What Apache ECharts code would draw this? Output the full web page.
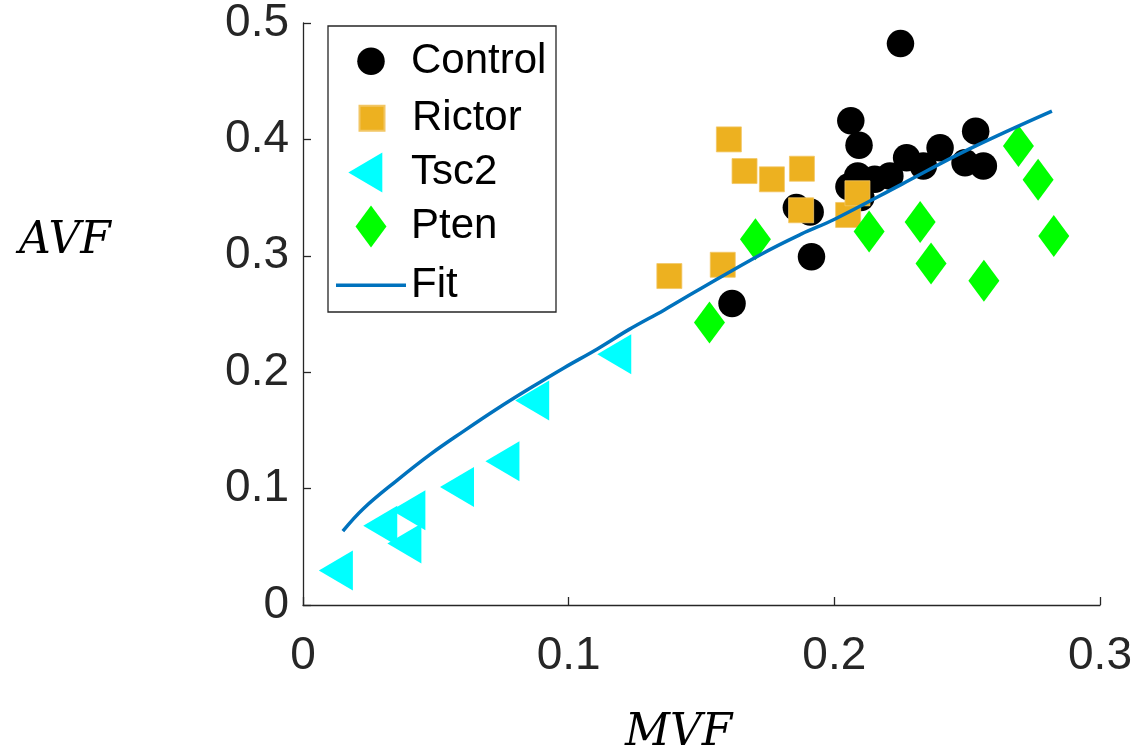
<!DOCTYPE html>
<html>
<head>
<meta charset="utf-8">
<script src="https://cdn.jsdelivr.net/npm/echarts@6/dist/echarts.min.js"></script>
<style>html,body{margin:0;padding:0;background:#fff;}#c{width:1140px;height:753px;}</style>
</head>
<body>
<div id="c"></div>
<script>
const seriesNames = ['Control', 'Rictor', 'Tsc2', 'Pten', 'Fit'];
const xTicks = [0, 0.1, 0.2, 0.3];
const yTicks = [0, 0.1, 0.2, 0.3, 0.4, 0.5];
const controlPoints = [
  [0.1615, 0.2591], [0.1857, 0.3414], [0.1909, 0.3377], [0.1914, 0.2991],
  [0.2062, 0.4160], [0.2093, 0.3949], [0.2088, 0.3686], [0.2055, 0.3594],
  [0.2100, 0.3500], [0.2152, 0.3657], [0.2209, 0.3686], [0.2249, 0.4823],
  [0.2272, 0.3843], [0.2335, 0.3771], [0.2398, 0.3929], [0.2492, 0.3800],
  [0.2532, 0.4071], [0.2561, 0.3771]
];
const rictorPoints = [
  [0.1379, 0.2826], [0.1580, 0.2923], [0.1603, 0.4000], [0.1662, 0.3728],
  [0.1765, 0.3657], [0.1878, 0.3748], [0.1875, 0.3391], [0.2052, 0.3351],
  [0.2087, 0.3537]
];
const tsc2Points = [
  [0.0145, 0.0297], [0.0312, 0.0680], [0.0403, 0.0529], [0.0418, 0.0814],
  [0.0601, 0.1014], [0.0772, 0.1234], [0.0884, 0.1757], [0.1193, 0.2155]
];
const ptenPoints = [
  [0.1530, 0.2428], [0.1703, 0.3143], [0.2131, 0.3209], [0.2323, 0.3291],
  [0.2364, 0.2934], [0.2563, 0.2786], [0.2693, 0.3943], [0.2767, 0.3654],
  [0.2826, 0.3171]
];
const fitPoints = [
  [0.0150, 0.0634], [0.0228, 0.0829], [0.0354, 0.1071], [0.0479, 0.1294],
  [0.0605, 0.1494], [0.0731, 0.1686], [0.0857, 0.1866], [0.0982, 0.2037],
  [0.1108, 0.2200], [0.1228, 0.2368], [0.1360, 0.2535], [0.1473, 0.2686],
  [0.1725, 0.3014], [0.1875, 0.3186], [0.2001, 0.3314], [0.2253, 0.3614],
  [0.2505, 0.3914], [0.2819, 0.4243]
];

const triPath = 'path://M45.33,20M0,20L34,0L34,40Z';
const diaPath = 'path://M15.5,0L31,21L15.5,42L0,21Z';
const sqPath = 'path://M0,0L25,0L25,25L0,25Z';

const chart = echarts.init(document.getElementById('c'));
const axisColor = '#262626';
const tickFont = 'Liberation Sans';

// icon column: 70px wide, starting at x=336; icon centre rows
function legendRow(name, cy, w, h, icon) {
  const d = { name: name };
  if (icon) d.icon = icon;
  const halfText = 18.7;
  return {
    data: [d], orient: 'vertical', left: 336 + (70 - w) / 2, top: cy - Math.max(h / 2, halfText),
    padding: 0, itemWidth: 70, itemHeight: h, selectedMode: false, symbolKeepAspect: true,
    textStyle: { fontSize: 42, color: '#000', fontFamily: tickFont }
  };
}

chart.setOption({
  animation: false,
  backgroundColor: '#fff',
  grid: { left: 303, right: 40, top: 21.5, bottom: 148 },
  xAxis: {
    type: 'value', min: 0, max: 0.3, interval: 0.1,
    axisLine: { show: true, onZero: false, lineStyle: { color: axisColor, width: 1.3 } },
    axisTick: { show: true, inside: true, length: 8, lineStyle: { color: axisColor, width: 1.3 } },
    splitLine: { show: false },
    axisLabel: { fontSize: 46, color: axisColor, fontFamily: tickFont, margin: 28,
      formatter: function (v) { return xTicks.indexOf(Math.round(v * 10) / 10) >= 0 ? String(Math.round(v * 10) / 10) : ''; } }
  },
  yAxis: {
    type: 'value', min: 0, max: 0.5, interval: 0.1,
    axisLine: { show: true, onZero: false, lineStyle: { color: axisColor, width: 1.3 } },
    axisTick: { show: true, inside: true, length: 8, lineStyle: { color: axisColor, width: 1.3 } },
    splitLine: { show: false },
    axisLabel: { fontSize: 46, color: axisColor, fontFamily: tickFont, margin: 14,
      formatter: function (v) { return yTicks.indexOf(Math.round(v * 10) / 10) >= 0 ? String(Math.round(v * 10) / 10) : ''; } }
  },
  graphic: [
    { type: 'rect', z: 3, shape: { x: 328, y: 26, width: 228, height: 286 },
      style: { fill: '#fff', stroke: axisColor, lineWidth: 1.3 } },
    { type: 'text', left: 19, top: 220, z: 5,
      style: { text: 'AVF', font: 'italic 44px "DejaVu Serif"', fill: '#000' } },
    { type: 'text', left: 625, top: 712, z: 5,
      style: { text: 'MVF', font: 'italic 44px "DejaVu Serif"', fill: '#000' } }
  ],
  legend: [
    legendRow(seriesNames[0], 59, 27.5, 27.5, null),
    legendRow(seriesNames[1], 116, 25, 25, sqPath),
    legendRow(seriesNames[2], 171.5, 45.33, 40, triPath),
    legendRow(seriesNames[3], 226.5, 31, 42, diaPath),
    legendRow(seriesNames[4], 283, 70, 3.5, 'rect')
  ],
  series: [
    { name: seriesNames[0], type: 'scatter', data: controlPoints, symbol: 'circle', symbolSize: 27.5,
      itemStyle: { color: '#000000', opacity: 1 } },
    { name: seriesNames[1], type: 'scatter', data: rictorPoints, symbol: 'rect', symbolSize: 25,
      itemStyle: { color: '#EDB120', opacity: 1, borderColor: '#F2C664', borderWidth: 0.8 } },
    { name: seriesNames[2], type: 'scatter', data: tsc2Points, symbol: triPath, symbolSize: [45.33, 40],
      itemStyle: { color: '#00FFFF', opacity: 1 } },
    { name: seriesNames[3], type: 'scatter', data: ptenPoints, symbol: 'diamond', symbolSize: [31, 42],
      itemStyle: { color: '#00FF00', opacity: 1 } },
    { name: seriesNames[4], type: 'line', data: fitPoints, smooth: 0.4, showSymbol: false, symbol: 'none',
      lineStyle: { color: '#0072BD', width: 3.5 }, itemStyle: { color: '#0072BD' } }
  ]
});
</script>
</body>
</html>
